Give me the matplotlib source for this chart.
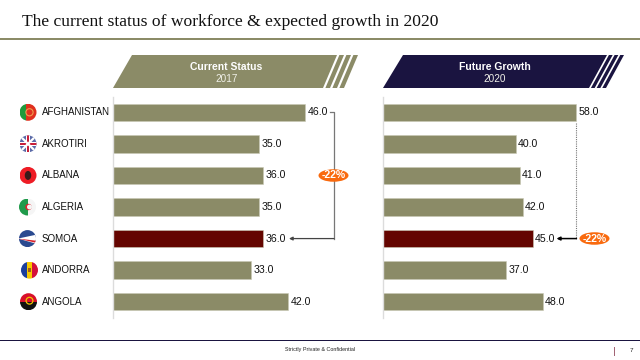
import matplotlib
matplotlib.use("Agg")
import matplotlib.pyplot as plt
from matplotlib.patches import Polygon, Ellipse, Circle, Rectangle

categories = ["AFGHANISTAN", "AKROTIRI", "ALBANA", "ALGERIA", "SOMOA", "ANDORRA", "ANGOLA"]
current_2017 = [46.0, 35.0, 36.0, 35.0, 36.0, 33.0, 42.0]
future_2020 = [58.0, 40.0, 41.0, 42.0, 45.0, 37.0, 48.0]
highlight = "SOMOA"
change_label = "-22%"
title = "The current status of workforce & expected growth in 2020"

OLIVE = "#8b8b67"
MAROON = "#640500"
NAVY = "#1a1440"
ORANGE = "#f96a0e"
W, H = 640, 360

plt.rcParams["font.family"] = ["Liberation Sans", "DejaVu Sans"]
fig = plt.figure(figsize=(W / 100, H / 100), dpi=100, facecolor="white")

ov = fig.add_axes([0, 0, 1, 1], zorder=5)
ov.set_xlim(0, W)
ov.set_ylim(H, 0)
ov.axis("off")


def make_axes(x0, px_per_unit):
    top, bottom = 96.5, 317.5
    width = 250
    ax = fig.add_axes([x0 / W, 1 - bottom / H, width / W, (bottom - top) / H], zorder=2)
    ax.set_xlim(0, width / px_per_unit)
    ax.set_ylim(len(categories) - 0.5, -0.5)
    ax.patch.set_alpha(0)
    ax.set_xticks([])
    ax.set_yticks([])
    for s in ("top", "right", "bottom"):
        ax.spines[s].set_visible(False)
    ax.spines["left"].set_color("#dcdcdc")
    ax.spines["left"].set_linewidth(1)
    return ax


def draw_bars(ax, values, label_gap):
    colors = [MAROON if c == highlight else OLIVE for c in categories]
    ax.barh(range(len(values)), values, height=0.55, color=colors,
            edgecolor="#c9c9b4", linewidth=0.4)
    for i, v in enumerate(values):
        ax.text(v + label_gap, i, f"{v:.1f}", va="center", ha="left", fontsize=7.6, color="#111111")


axl = make_axes(113, 4.17)
axr = make_axes(383, 3.33)
draw_bars(axl, current_2017, 0.7)
draw_bars(axr, future_2020, 0.6)

hi = categories.index(highlight)

# left connector
xc = 52.9
axl.plot([52.0, xc, xc], [0, 0, hi], color="#777777", lw=0.9, clip_on=False)
axl.annotate("", xy=(current_2017[hi] + 6.2, hi), xytext=(xc + 0.1, hi),
             arrowprops=dict(arrowstyle="-|>,head_width=0.1,head_length=0.2", color="#444444", lw=0.9,
                             shrinkA=0, shrinkB=0), annotation_clip=False)
# right connector
xr = future_2020[0] + 0.1
axr.plot([xr, xr], [0.35, hi], color="#777777", lw=0.8, ls=(0, (1, 1)), clip_on=False)
axr.annotate("", xy=(future_2020[hi] + 7.1, hi), xytext=(xr, hi),
             arrowprops=dict(arrowstyle="-|>,head_width=0.1,head_length=0.2", color="black", lw=1.1,
                             shrinkA=0, shrinkB=0), annotation_clip=False)


def badge(cx, cy):
    ov.add_patch(Ellipse((cx, cy), 30, 12.5, color=ORANGE, lw=0, zorder=5))
    ov.text(cx, cy, change_label, color="white", ha="center", va="center", fontsize=7.6,
            fontweight="bold", zorder=6)


badge(333.5, 175.5)
badge(594.5, 238.5)


def header(x_bl, x_tl, x_br, x_tr, x_end_t, color, t1, t2, cx):
    top, bot = 55, 88
    ov.add_patch(Polygon([(x_bl, bot), (x_tl, top), (x_tr, top), (x_br, bot)], color=color, lw=0))
    step = (x_end_t - x_tr) / 3
    slant = x_tr - x_br
    for k in range(3):
        a = x_tr + k * step + step * 0.34
        b = x_tr + (k + 1) * step
        ov.add_patch(Polygon([(a - slant, bot), (a, top), (b, top), (b - slant, bot)], color=color, lw=0))
    ov.text(cx, 67, t1, color="white", fontsize=7.5, fontweight="bold", ha="center", va="center")
    ov.text(cx, 78.5, t2, color="#f0f0e8", fontsize=7.2, ha="center", va="center")


header(113, 132, 323, 337, 358, OLIVE, "Current Status", "2017", 226.5)
header(383, 403, 589, 607, 624, NAVY, "Future Growth", "2020", 495)

# title, rules, footer
ov.text(22, 21.5, title, family="Liberation Serif", fontsize=12.6, color="#111111", va="center", ha="left")
ov.add_patch(Rectangle((0, 38.4), W, 2, color=OLIVE, lw=0))
ov.add_patch(Rectangle((0, 339.5), W, 1.4, color=NAVY, lw=0))
ov.text(320.5, 350, "Strictly Private & Confidential", fontsize=3.85, ha="center", va="center", color="#222222")
ov.plot([614, 614], [347, 355], color="#a06070", lw=0.7)
ov.text(631, 350.5, "7", fontsize=4.6, ha="center", va="center", color="#222222")


# category names and small round flag emblems
def flag(name, cx, cy, r=8.5):
    clip = Circle((cx, cy), r, transform=ov.transData)

    def band(x, y, w, h, c):
        p = Rectangle((x, y), w, h, color=c, lw=0)
        ov.add_patch(p)
        p.set_clip_path(clip)

    def shape(points, c):
        p = Polygon(points, color=c, lw=0)
        ov.add_patch(p)
        p.set_clip_path(clip)

    left, top, d = cx - r, cy - r, 2 * r
    if name == "AFGHANISTAN":
        band(left, top, d * 0.36, d, "#1f9a3c")
        band(left + d * 0.36, top, d, d, "#e0301e")
        ov.add_patch(Circle((cx + 1.5, cy), 3.6, fc="none", ec="#f0a050", lw=0.8))
    elif name == "AKROTIRI":
        band(left, top, d, d, "#5a6aa8")
        for a, b in (((-r, -r), (r, r)), ((-r, r), (r, -r))):
            l, = ov.plot([cx + a[0], cx + b[0]], [cy + a[1], cy + b[1]], color="white", lw=1.6)
            l.set_clip_path(clip)
        band(cx - 2, top, 4, d, "white")
        band(left, cy - 2, d, 4, "white")
        band(cx - 1, top, 2, d, "#c81f3a")
        band(left, cy - 1, d, 2, "#c81f3a")
    elif name == "ALBANA":
        band(left, top, d, d, "#ee1c25")
        ov.add_patch(Ellipse((cx, cy), 6.5, 9, color="#3a1a1a", lw=0))
    elif name == "ALGERIA":
        band(left, top, d / 2, d, "#1f9a4a")
        band(cx, top, d / 2, d, "#f5f5f5")
        ov.add_patch(Circle((cx + 1, cy), 3.2, color="#e0202a", lw=0))
        ov.add_patch(Circle((cx + 2, cy), 2.5, color="#f5f5f5", lw=0))
    elif name == "SOMOA":
        band(left, top, d, d, "#2a4a90")
        shape([(left - 1, cy), (cx + r, cy - r * 0.45), (cx + r, cy + r * 0.6)], "white")
        shape([(left - 1, cy), (cx + r, cy + r * 0.25), (cx + r, cy + r * 0.5)], "#d8202a")
    elif name == "ANDORRA":
        band(left, top, d / 3, d, "#1c3f9c")
        band(left + d / 3, top, d / 3, d, "#f7c800")
        band(left + 2 * d / 3, top, d / 3, d, "#d4103a")
        ov.add_patch(Rectangle((cx - 1.5, cy - 2), 3, 4, color="#a05a20", lw=0))
    elif name == "ANGOLA":
        band(left, top, d, d / 2, "#d8102a")
        band(left, cy, d, d / 2, "#111111")
        ov.add_patch(Circle((cx + 1, cy - 1), 3.4, fc="none", ec="#f2c400", lw=0.9))


flag_x = [28, 28, 28, 27.5, 27.5, 29.5, 28.5]
for i, name in enumerate(categories):
    y = axl.transData.transform((0, i))[1]
    y_px = H - y * 100 / fig.dpi
    flag(name, flag_x[i], y_px)
    ov.text(42, y_px, name, fontsize=7.0, color="#111111", ha="left", va="center")

fig.savefig("out.png", dpi=100)
